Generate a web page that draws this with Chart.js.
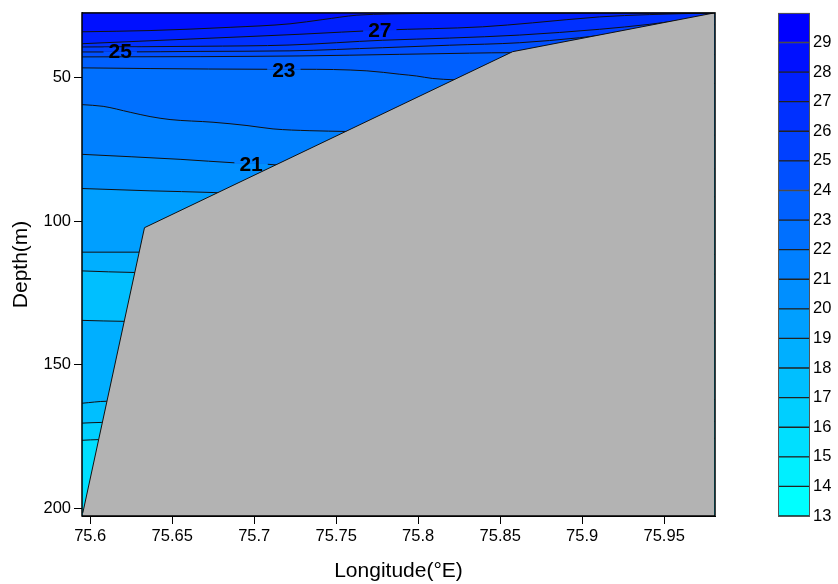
<!DOCTYPE html>
<html>
<head>
<meta charset="utf-8">
<script src="https://cdn.jsdelivr.net/npm/chart.js@4.4.1/dist/chart.umd.min.js"></script>
<style>
  body { margin: 0; background: #fff; }
  #wrap { position: relative; width: 838px; height: 584px; }
  #main { position: absolute; left: 0; top: 0; }
  #bar { position: absolute; left: 770px; top: 0; }
</style>
</head>
<body>
<div id="wrap">
  <canvas id="main" width="838" height="584"></canvas>
  <canvas id="bar" width="68" height="584"></canvas>
</div>
<script>
// axes
const lonMin = 75.595, lonMax = 75.981;
const depMin = 27.5, depMax = 202.7;
const lonTicks = [75.6, 75.65, 75.7, 75.75, 75.8, 75.85, 75.9, 75.95];
const depTicks = [50, 100, 150, 200];
const levels = [13, 14, 15, 16, 17, 18, 19, 20, 21, 22, 23, 24, 25, 26, 27, 28, 29, 30];
const levelTicks = [13, 14, 15, 16, 17, 18, 19, 20, 21, 22, 23, 24, 25, 26, 27, 28, 29];

// seabed profile
const seabedLon = [75.5955, 75.6331, 75.8576, 75.9806];
const seabedDep = [201.6, 102.3, 41.0, 27.5];

// isotherms, [lon, depth]
const iso16 = [[75.5951, 176.34], [75.6051, 176.10], [75.9806, 175.65]];
const iso17 = [[75.5951, 170.36], [75.6071, 170.11], [75.9806, 169.76]];
const iso18lensTop = [[75.5951, 134.57], [75.6207, 134.91], [75.9806, 135.50]];
const iso18lensBot = [[75.5951, 163.43], [75.6102, 162.74], [75.9806, 162.15]];
const iso18 = [[75.5951, 117.35], [75.6274, 117.90], [75.9806, 118.49]];
const iso19 = [[75.5951, 110.82], [75.6305, 110.82], [75.6670, 111.09], [75.9806, 111.61]];
const iso20 = [[75.5951, 88.66], [75.6365, 89.46], [75.6749, 90.05], [75.7035, 90.85], [75.9806, 91.54]];
const iso21 = [[75.5951, 76.76], [75.6548, 78.49], [75.6895, 79.77], [75.7084, 80.22], [75.7139, 80.46],
               [75.7401, 81.15], [75.9806, 81.84]];
const iso22 = [[75.5951, 59.45], [75.6079, 60.04], [75.6244, 62.11], [75.6365, 63.60], [75.6487, 64.64],
               [75.6749, 65.58], [75.6956, 66.72], [75.7115, 67.90], [75.7340, 68.52], [75.7565, 68.80],
               [75.7888, 69.38], [75.9806, 70.08]];
const iso23 = [[75.5951, 46.64], [75.6365, 46.88], [75.7078, 47.13], [75.7279, 47.13], [75.7687, 47.68],
               [75.7888, 48.86], [75.7991, 49.48], [75.8089, 50.35], [75.8223, 50.80], [75.8497, 51.38],
               [75.9806, 52.08]];
const iso24 = [[75.5951, 42.83], [75.6670, 42.73], [75.7279, 42.49], [75.7888, 41.93], [75.8314, 41.52],
               [75.8576, 41.35], [75.9106, 41.69], [75.9806, 42.04]];
const iso25 = [[75.5951, 41.10], [75.6183, 41.10], [75.6670, 40.90], [75.7218, 40.72], [75.7784, 39.62],
               [75.8192, 38.75], [75.8619, 37.89], [75.8984, 36.15], [75.9349, 33.73], [75.9806, 31.65]];
const iso26 = [[75.5951, 39.37], [75.6670, 39.13], [75.7218, 38.68], [75.7784, 37.02], [75.8192, 36.26],
               [75.8619, 35.22], [75.9106, 33.21], [75.9410, 31.48], [75.9636, 29.82], [75.9806, 28.89]];
const iso27 = [[75.5951, 38.23], [75.6609, 36.60], [75.7279, 34.94], [75.7784, 33.49], [75.8393, 32.35],
               [75.8698, 30.96], [75.9106, 28.89], [75.9410, 28.09], [75.9806, 27.5]];
const iso28 = [[75.5951, 34.08], [75.6365, 33.65], [75.6853, 32.52], [75.7218, 31.31], [75.7419, 29.82],
               [75.7626, 28.30], [75.7827, 27.85], [75.8235, 27.6], [75.9106, 27.55], [75.9806, 27.5]];

// contour labels: text, lon, depth
const isoLabels = [['27', 75.7766, 33.5], ['25', 75.6183, 41.0], ['23', 75.7181, 47.3], ['21', 75.6981, 80.1]];

const family = "'Liberation Sans', Arial, sans-serif";

function band(t) {
  const g = Math.round(255 * (29 - t) / 16);
  return 'rgb(0,' + g + ',255)';
}

const layers = [
  { pts: iso16, lvl: 16 },
  { pts: iso17, lvl: 17 },
  { pts: iso18lensTop, lvl: 18, lens: true },
  { pts: iso18lensBot },
  { pts: iso18, lvl: 18 },
  { pts: iso19, lvl: 19 },
  { pts: iso20, lvl: 20 },
  { pts: iso21, lvl: 21 },
  { pts: iso22, lvl: 22 },
  { pts: iso23, lvl: 23 },
  { pts: iso24, lvl: 24 },
  { pts: iso25, lvl: 25 },
  { pts: iso26, lvl: 26 },
  { pts: iso27, lvl: 27 },
  { pts: iso28, lvl: 28 }
];

const datasets = layers.map((L, i) => ({
  data: L.pts.map(p => ({ x: p[0], y: p[1] })),
  borderColor: '#111',
  borderWidth: 1,
  pointRadius: 0,
  cubicInterpolationMode: 'monotone',
  backgroundColor: L.lvl ? band(L.lvl) : 'transparent',
  fill: L.lens ? '+1' : (L.lvl ? { value: depMin } : false),
  order: 100 - i
}));

datasets.push({
  data: seabedLon.map((x, i) => ({ x: x, y: seabedDep[i] })),
  borderColor: '#111',
  borderWidth: 1,
  pointRadius: 0,
  tension: 0,
  backgroundColor: '#b3b3b3',
  fill: { value: depMax },
  order: 0
});

const framePlugin = {
  id: 'frame',
  beforeDatasetsDraw(chart) {
    const a = chart.chartArea, ctx = chart.ctx;
    ctx.save();
    ctx.fillStyle = band(15);
    ctx.fillRect(a.left, a.top, a.right - a.left, a.bottom - a.top);
    ctx.restore();
  },
  afterDatasetsDraw(chart) {
    const a = chart.chartArea, ctx = chart.ctx;
    const xs = chart.scales.x, ys = chart.scales.y;
    ctx.save();
    ctx.font = 'bold 21px ' + family;
    ctx.textAlign = 'center';
    ctx.textBaseline = 'middle';
    isoLabels.forEach(l => {
      const px = xs.getPixelForValue(l[1]);
      const py = ys.getPixelForValue(l[2]);
      const w = ctx.measureText(l[0]).width + 10;
      const lv = +l[0];
      ctx.fillStyle = band(lv);
      ctx.fillRect(px - w / 2, py - 4, w, 4);
      ctx.fillStyle = band(lv - 1);
      ctx.fillRect(px - w / 2, py, w, 4);
      ctx.fillStyle = '#000';
      ctx.fillText(l[0], px, py + 1);
    });
    ctx.strokeStyle = '#000';
    ctx.lineWidth = 1.5;
    ctx.strokeRect(a.left, a.top, a.right - a.left, a.bottom - a.top);
    ctx.restore();
  }
};

new Chart(document.getElementById('main'), {
  type: 'line',
  data: { datasets: datasets },
  options: {
    responsive: false,
    animation: false,
    layout: { padding: { left: 0, top: 10, right: 123, bottom: 0 } },
    plugins: { legend: { display: false }, tooltip: { enabled: false } },
    scales: {
      x: {
        type: 'linear',
        min: lonMin,
        max: lonMax,
        afterBuildTicks: s => { s.ticks = lonTicks.map(v => ({ value: v })); },
        afterFit: s => { s.height = 68; },
        grid: { drawOnChartArea: false, tickLength: 8, color: '#000' },
        border: { color: '#000' },
        ticks: { color: '#000', font: { family: family, size: 16.5 }, padding: 3, maxRotation: 0, autoSkip: false,
                 callback: v => String(v) },
        title: { display: true, text: 'Longitude(°E)', color: '#000', font: { family: family, size: 21 },
                 padding: { top: 0, bottom: 0 } }
      },
      y: {
        type: 'linear',
        reverse: true,
        min: depMin,
        max: depMax,
        afterBuildTicks: s => { s.ticks = depTicks.map(v => ({ value: v })); },
        afterFit: s => { s.width = 82; },
        grid: { drawOnChartArea: false, tickLength: 8, color: '#000' },
        border: { color: '#000' },
        ticks: { color: '#000', font: { family: family, size: 16.5 }, padding: 3, autoSkip: false },
        title: { display: true, text: 'Depth(m)', color: '#000', font: { family: family, size: 21 },
                 padding: { top: 9, bottom: 0 } }
      }
    }
  },
  plugins: [framePlugin]
});

// colour bar
const barFrame = {
  id: 'barFrame',
  afterDatasetsDraw(chart) {
    const a = chart.chartArea, ctx = chart.ctx;
    ctx.save();
    ctx.strokeStyle = '#555';
    ctx.lineWidth = 1;
    ctx.strokeRect(a.left + 0.5, a.top + 0.5, a.right - a.left - 1, a.bottom - a.top);
    ctx.restore();
  }
};

new Chart(document.getElementById('bar'), {
  type: 'bar',
  data: {
    labels: [''],
    datasets: levels.slice(0, -1).map((lo, i) => ({
      data: [[lo, levels[i + 1]]],
      backgroundColor: band(lo),
      borderColor: '#222',
      borderWidth: 1,
      borderSkipped: false,
      grouped: false,
      barPercentage: 1,
      categoryPercentage: 1
    }))
  },
  options: {
    responsive: false,
    animation: false,
    layout: { padding: { left: 8, top: 10, right: 0, bottom: 68 } },
    plugins: { legend: { display: false }, tooltip: { enabled: false } },
    scales: {
      x: { display: false },
      y: {
        position: 'right',
        min: 13,
        max: 30,
        afterBuildTicks: s => { s.ticks = levelTicks.map(v => ({ value: v })); },
        afterFit: s => { s.width = 28; },
        grid: { display: false, drawTicks: false },
        border: { display: false },
        ticks: { color: '#000', font: { family: family, size: 16.5 }, padding: 3, autoSkip: false }
      }
    }
  },
  plugins: [barFrame]
});
</script>
</body>
</html>
